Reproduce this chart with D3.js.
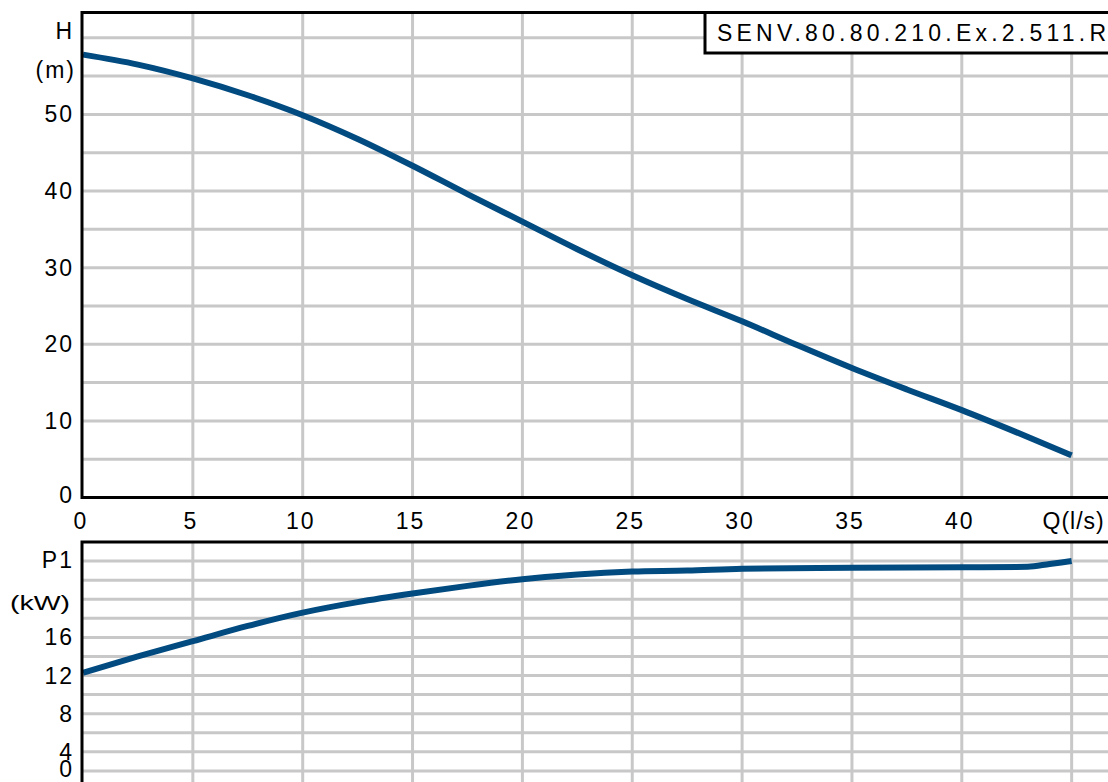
<!DOCTYPE html>
<html>
<head>
<meta charset="utf-8">
<script src="https://cdn.jsdelivr.net/npm/d3@7"></script>
<style>
  body { margin: 0; background: #fff; }
  text { font-family: "Liberation Sans", Arial, sans-serif; fill: #000; }
</style>
</head>
<body>
<script>

// pump curve data
let pumpName = 'SENV.80.80.210.Ex.2.511.R';

let flowValues = [0, 2.5, 5, 7.5, 10, 12.5, 15, 17.5, 20, 22.5, 25, 27.5, 30, 32.5, 35, 37.5, 40, 42.5, 45];
let headValues = [57.8, 56.5, 54.7, 52.5, 49.9, 46.8, 43.3, 39.6, 36.0, 32.4, 29.0, 25.9, 23.0, 19.9, 16.9, 14.1, 11.4, 8.5, 5.5];

let powerFlow = [0, 2.5, 5, 7.5, 10, 12.5, 15, 17.5, 20, 22.5, 25, 27.5, 30, 35, 40, 43, 44, 45];
let powerValues = [12.3, 14.0, 15.6, 17.2, 18.6, 19.7, 20.6, 21.4, 22.1, 22.6, 22.9, 23.0, 23.2, 23.3, 23.35, 23.4, 23.7, 24.0];

let flowTicks = [0, 5, 10, 15, 20, 25, 30, 35, 40];
let flowGrid = [5, 10, 15, 20, 25, 30, 35, 40, 45];
let headTicks = [0, 10, 20, 30, 40, 50];
let headGrid = [5, 10, 15, 20, 25, 30, 35, 40, 45, 50, 55, 60];
let powerTicks = [0, 4, 8, 12, 16];
let powerGrid = [2, 4, 6, 8, 10, 12, 14, 16, 18, 20, 22, 24];

let width = 1108;
let height = 782;
let lineColor = '#024b81';
let gridColor = '#c8c8c8';

let xScale = d3.scaleLinear()
                .domain([0, 47])
                .range([83, 83 + 47 * 21.97]);

let yHead = d3.scaleLinear()
                .domain([0, 63.3])
                .range([497.5, 12.5]);

let yPower = d3.scaleLinear()
                .domain([0, 26])
                .range([790, 542]);

let svg = d3.select('body').append('svg')
                .attr('width', width)
                .attr('height', height);

function drawPanel(yScale, hGrid){
        let panel = svg.append('g');
        let [y0, y1] = yScale.range();

        panel.selectAll('.vgrid')
            .data(flowGrid)
          .enter().append('line')
            .attr('x1', d => xScale(d))
            .attr('x2', d => xScale(d))
            .attr('y1', y1)
            .attr('y2', y0)
            .attr('stroke', gridColor)
            .attr('stroke-width', 3);

        panel.selectAll('.hgrid')
            .data(hGrid)
          .enter().append('line')
            .attr('x1', xScale(0))
            .attr('x2', width + 20)
            .attr('y1', d => yScale(d))
            .attr('y2', d => yScale(d))
            .attr('stroke', gridColor)
            .attr('stroke-width', 3);

        return panel;
}

let topPanel = drawPanel(yHead, headGrid);
let bottomPanel = drawPanel(yPower, powerGrid);

topPanel.append('path')
    .datum(flowValues.map((q, i) => [q, headValues[i]]))
    .attr('fill', 'none')
    .attr('stroke', lineColor)
    .attr('stroke-width', 6)
    .attr('d', d3.line()
        .x(d => xScale(d[0]))
        .y(d => yHead(d[1]))
        .curve(d3.curveMonotoneX));

bottomPanel.append('path')
    .datum(powerFlow.map((q, i) => [q, powerValues[i]]))
    .attr('fill', 'none')
    .attr('stroke', lineColor)
    .attr('stroke-width', 6)
    .attr('d', d3.line()
        .x(d => xScale(d[0]))
        .y(d => yPower(d[1]))
        .curve(d3.curveMonotoneX));

// frames (right side runs off the picture)
svg.append('rect')
    .attr('x', xScale(0) - 1)
    .attr('y', yHead.range()[1])
    .attr('width', 1100)
    .attr('height', yHead.range()[0] - yHead.range()[1])
    .attr('fill', 'none')
    .attr('stroke', '#000')
    .attr('stroke-width', 3);

svg.append('rect')
    .attr('x', xScale(0) - 1)
    .attr('y', yPower.range()[1])
    .attr('width', 1100)
    .attr('height', 300)
    .attr('fill', 'none')
    .attr('stroke', '#000')
    .attr('stroke-width', 3);

// title box
svg.append('rect')
    .attr('x', 705)
    .attr('y', 12.5)
    .attr('width', 500)
    .attr('height', 40.5)
    .attr('fill', '#fff')
    .attr('stroke', '#000')
    .attr('stroke-width', 3);

svg.append('text')
    .attr('x', 717)
    .attr('y', 41)
    .attr('font-size', 23)
    .attr('textLength', 389)
    .attr('lengthAdjust', 'spacing')
    .text(pumpName);

// axis labels
let labelStyle = sel => sel
    .attr('font-size', 23)
    .attr('letter-spacing', 2)
    .attr('dominant-baseline', 'central');

svg.selectAll('.hlabel')
    .data(headTicks)
  .enter().append('text')
    .attr('x', 74)
    .attr('y', d => yHead(d) - (d === 0 ? 3 : 0))
    .attr('text-anchor', 'end')
    .call(labelStyle)
    .text(d => d);

svg.append('text')
    .attr('x', 74).attr('y', 31)
    .attr('text-anchor', 'end')
    .call(labelStyle)
    .text('H');

svg.append('text')
    .attr('x', 76).attr('y', 70)
    .attr('text-anchor', 'end')
    .call(labelStyle)
    .text('(m)');

svg.selectAll('.qlabel')
    .data(flowTicks)
  .enter().append('text')
    .attr('x', d => xScale(d) - 2)
    .attr('y', 521)
    .attr('text-anchor', 'middle')
    .call(labelStyle)
    .text(d => d);

svg.append('text')
    .attr('x', xScale(45) + 2)
    .attr('y', 521)
    .attr('text-anchor', 'middle')
    .call(labelStyle)
    .attr('letter-spacing', 1)
    .text('Q(l/s)');

svg.selectAll('.plabel')
    .data(powerTicks)
  .enter().append('text')
    .attr('x', 74)
    .attr('y', d => Math.min(yPower(d), 769))
    .attr('text-anchor', 'end')
    .call(labelStyle)
    .text(d => d);

svg.append('text')
    .attr('x', 74).attr('y', 560)
    .attr('text-anchor', 'end')
    .call(labelStyle)
    .text('P1');

svg.append('text')
    .attr('x', 10).attr('y', 602)
    .attr('font-size', 21)
    .attr('dominant-baseline', 'central')
    .attr('textLength', 60)
    .attr('lengthAdjust', 'spacingAndGlyphs')
    .text('(kW)');

</script>
</body>
</html>
